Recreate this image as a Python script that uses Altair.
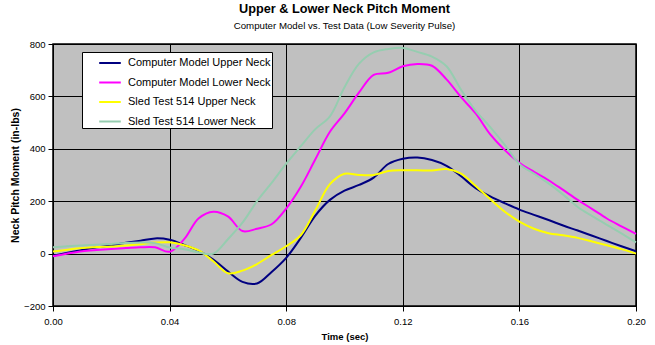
import altair as alt
import pandas as pd

# ---- data ----
time_s = [0.000, 0.005, 0.010, 0.015, 0.020, 0.025, 0.030, 0.035, 0.040, 0.045,
          0.050, 0.055, 0.060, 0.065, 0.070, 0.075, 0.080, 0.085, 0.090, 0.095,
          0.100, 0.105, 0.110, 0.115, 0.120, 0.125, 0.130, 0.135, 0.140, 0.145,
          0.150, 0.155, 0.160, 0.165, 0.170, 0.175, 0.180, 0.185, 0.190, 0.195,
          0.200]

cm_upper = [-8, 3, 14, 24, 32, 41, 49, 58, 53, 33,
            10, -23, -68, -108, -114, -70, -16, 60, 145, 205,
            240, 262, 290, 342, 362, 367, 357, 335, 295, 250,
            218, 192, 168, 148, 128, 107, 88, 68, 48, 28,
            9]

cm_lower = [-10, 0, 9, 14, 18, 21, 24, 24, 7, 55,
            135, 160, 142, 86, 95, 112, 172, 255, 360, 465,
            535, 615, 682, 690, 715, 724, 717, 665, 597, 535,
            455, 395, 347, 312, 280, 243, 205, 170, 134, 104,
            75]

sled_upper = [8, 15, 21, 25, 27, 31, 36, 42, 43, 32,
              12, -29, -75, -65, -40, -5, 28, 70, 165, 265,
              305, 300, 300, 315, 318, 318, 317, 323, 305, 258,
              208, 160, 122, 95, 78, 70, 60, 46, 32, 17,
              0]

sled_lower = [24, 28, 31, 34, 37, 40, 42, 40, 23, 17,
              4, 0, 55, 118, 200, 270, 343, 410, 475, 524,
              635, 725, 768, 781, 785, 770, 752, 715, 625, 545,
              483, 415, 342, 305, 268, 225, 178, 143, 110, 77,
              43]

series_names = ["Computer Model Upper Neck", "Computer Model Lower Neck",
                "Sled Test 514 Upper Neck", "Sled Test 514 Lower Neck"]
series_colors = ["#000080", "#FF00FF", "#FFFF00", "#96CDB0"]

x_ticks = [0.00, 0.04, 0.08, 0.12, 0.16, 0.20]
y_ticks = [-200, 0, 200, 400, 600, 800]

rows = []
for name, vals in zip(series_names, [cm_upper, cm_lower, sled_upper, sled_lower]):
    for t, v in zip(time_s, vals):
        rows.append({"Time": t, "Moment": v, "Series": name})
df = pd.DataFrame(rows)

FONT = "Liberation Sans"
PAD = "\u00a0" * 12

base = alt.Chart(df).mark_line(strokeWidth=2, interpolate="catmull-rom").encode(
    x=alt.X("Time:Q",
            scale=alt.Scale(domain=[0, 0.2], nice=False, zero=False),
            axis=alt.Axis(values=x_ticks, format=".2f", title="Time (sec)",
                          titleX=291.5, titleY=33, titleBaseline="alphabetic",
                          titleAnchor="start", titleAlign="center",
                          titleFontSize=9.5, labelPadding=5.5,
                          labelFlush=False)),
    y=alt.Y("Moment:Q",
            scale=alt.Scale(domain=[-200, 800], nice=False),
            axis=alt.Axis(values=y_ticks, format="d",
                          title="Neck Pitch Moment (in-lbs)",
                          titleX=-38, titleY=131, titleAngle=270,
                          titleAlign="center", titleBaseline="middle",
                          titleFontSize=10.5, labelPadding=3,
                          labelFlush=False)),
    color=alt.Color("Series:N",
                    scale=alt.Scale(domain=series_names, range=series_colors),
                    legend=alt.Legend(orient="none", legendX=29, legendY=8,
                                      title=None, fillColor="white",
                                      strokeColor="black", padding=1,
                                      symbolType="M-1.2,0L1.2,0",
                                      symbolSize=324, symbolStrokeWidth=2,
                                      symbolOffset=17, labelOffset=8,
                                      rowPadding=4.5, labelFont=FONT,
                                      labelFontSize=11, labelColor="black",
                                      labelLimit=400,
                                      labelExpr=f"datum.label + '{PAD}'")),
)

layers = [base.transform_filter(alt.datum.Series == name) for name in series_names]

chart = alt.layer(*layers).properties(
    width=583,
    height=262,
    autosize="none",
    padding={"left": 53, "top": 44, "right": 19, "bottom": 39},
    background="white",
    title=alt.TitleParams(
        text="Upper & Lower Neck Pitch Moment",
        subtitle="Computer Model vs. Test Data (Low Severity Pulse)",
        anchor="middle", offset=8.5, subtitlePadding=5,
        font=FONT, fontSize=12.7, fontWeight="bold", color="black",
        subtitleFont=FONT, subtitleFontSize=9.7, subtitleColor="black",
    ),
).configure_view(
    fill="#C0C0C0", stroke="black", strokeWidth=1.5
).configure_axis(
    grid=True, gridColor="black", gridWidth=1, gridOpacity=1,
    domainColor="black", domainWidth=1,
    tickColor="black", tickSize=5, tickWidth=1,
    labelColor="black", labelFont=FONT, labelFontSize=9.5,
    titleColor="black", titleFont=FONT, titleFontWeight="bold",
)

chart.save("out.html", embed_options={"renderer": "svg", "actions": False})
